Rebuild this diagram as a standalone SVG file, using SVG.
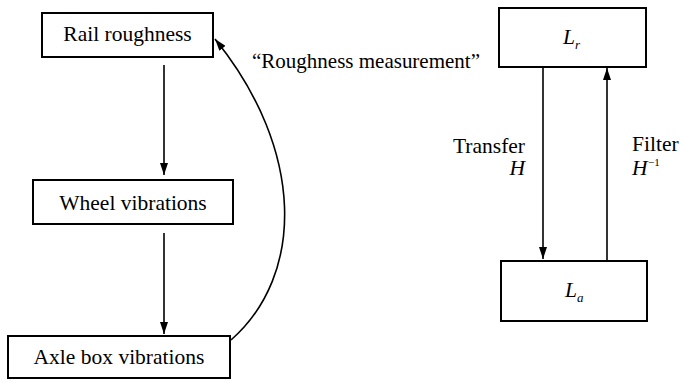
<svg xmlns="http://www.w3.org/2000/svg" width="680" height="382" viewBox="0 0 680 382">
<style>
.box{fill:#fff;stroke:#000;stroke-width:2}
.t{font-family:"Liberation Serif","Times New Roman",serif;font-size:21.5px;fill:#000}
.i{font-style:italic}
.sup{font-family:"Liberation Serif","Times New Roman",serif;font-size:11px;fill:#000}
.c{fill:none;stroke:#000;stroke-width:1.6}
</style>
<defs>
<marker id="ah" viewBox="0 0 12 8" refX="12" refY="4" markerWidth="12" markerHeight="8" markerUnits="userSpaceOnUse" orient="auto">
<path d="M0,0 L12,4 L0,8 Z" fill="#000"/>
</marker>
</defs>
<rect width="680" height="382" fill="#fff"/>
<g id="connectors">
<line class="c" x1="164" y1="65" x2="164" y2="175" marker-end="url(#ah)"/>
<line class="c" x1="164" y1="233" x2="164" y2="334" marker-end="url(#ah)"/>
<path class="c" d="M231,340 C305,275 305,150 215,39" marker-end="url(#ah)"/>
<line class="c" x1="543" y1="67" x2="543" y2="259" marker-end="url(#ah)"/>
<line class="c" x1="607" y1="260" x2="607" y2="68" marker-end="url(#ah)"/>
<text class="t" x="252" y="68" textLength="228" lengthAdjust="spacingAndGlyphs">“Roughness measurement”</text>
<text class="t" x="525" y="153" text-anchor="end">Transfer</text>
<text class="t i" x="525" y="175" text-anchor="end">H</text>
<text class="t" x="632" y="151">Filter</text>
<text class="t i" x="632" y="175">H</text>
<text class="sup" x="648" y="166">−1</text>
</g>
<g id="rail">
<rect class="box" x="42" y="13" width="171" height="44"/>
<text class="t" x="127.5" y="41" text-anchor="middle">Rail roughness</text>
</g>
<g id="wheel">
<rect class="box" x="33" y="180" width="200" height="44"/>
<text class="t" x="133" y="210" text-anchor="middle">Wheel vibrations</text>
</g>
<g id="axle">
<rect class="box" x="8" y="336" width="222" height="42"/>
<text class="t" x="119" y="364" text-anchor="middle">Axle box vibrations</text>
</g>
<g id="Lr">
<rect class="box" x="499" y="8" width="147" height="59"/>
<text class="t i" x="563" y="44">L<tspan style="font-size:13px" dy="5">r</tspan></text>
</g>
<g id="La">
<rect class="box" x="501" y="261" width="146" height="60"/>
<text class="t i" x="565" y="297">L<tspan style="font-size:13px" dy="5">a</tspan></text>
</g>
</svg>
